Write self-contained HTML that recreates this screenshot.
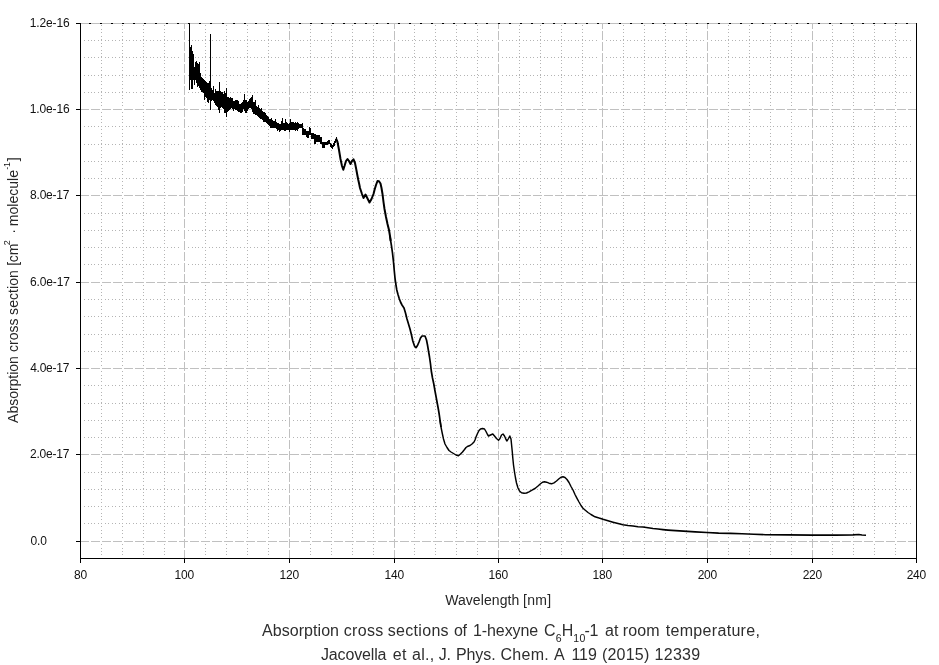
<!DOCTYPE html>
<html lang="en"><head><meta charset="utf-8"><title>Absorption cross sections of 1-hexyne</title>
<style>html,body{margin:0;padding:0;background:#fff;overflow:hidden}body{width:939px;height:665px}</style></head>
<body>
<svg width="939" height="665" viewBox="0 0 939 665" style="display:block">
<rect width="939" height="665" fill="#fff"/>
<g stroke="#b4b4b4" stroke-width="1" stroke-dasharray="1 2.464" shape-rendering="crispEdges" fill="none">
<path d="M101.5 25.3V107.2M101.5 112.1V193.2M101.5 198.1V280.2M101.5 285.1V366.2M101.5 371.1V452.2M101.5 457.1V539.2M101.5 544.1V556.2M122.5 25.3V107.2M122.5 112.1V193.2M122.5 198.1V280.2M122.5 285.1V366.2M122.5 371.1V452.2M122.5 457.1V539.2M122.5 544.1V556.2M143.5 25.3V107.2M143.5 112.1V193.2M143.5 198.1V280.2M143.5 285.1V366.2M143.5 371.1V452.2M143.5 457.1V539.2M143.5 544.1V556.2M164.5 25.3V107.2M164.5 112.1V193.2M164.5 198.1V280.2M164.5 285.1V366.2M164.5 371.1V452.2M164.5 457.1V539.2M164.5 544.1V556.2M205.5 25.3V107.2M205.5 112.1V193.2M205.5 198.1V280.2M205.5 285.1V366.2M205.5 371.1V452.2M205.5 457.1V539.2M205.5 544.1V556.2M226.5 25.3V107.2M226.5 112.1V193.2M226.5 198.1V280.2M226.5 285.1V366.2M226.5 371.1V452.2M226.5 457.1V539.2M226.5 544.1V556.2M247.5 25.3V107.2M247.5 112.1V193.2M247.5 198.1V280.2M247.5 285.1V366.2M247.5 371.1V452.2M247.5 457.1V539.2M247.5 544.1V556.2M268.5 25.3V107.2M268.5 112.1V193.2M268.5 198.1V280.2M268.5 285.1V366.2M268.5 371.1V452.2M268.5 457.1V539.2M268.5 544.1V556.2M310.5 25.3V107.2M310.5 112.1V193.2M310.5 198.1V280.2M310.5 285.1V366.2M310.5 371.1V452.2M310.5 457.1V539.2M310.5 544.1V556.2M331.5 25.3V107.2M331.5 112.1V193.2M331.5 198.1V280.2M331.5 285.1V366.2M331.5 371.1V452.2M331.5 457.1V539.2M331.5 544.1V556.2M352.5 25.3V107.2M352.5 112.1V193.2M352.5 198.1V280.2M352.5 285.1V366.2M352.5 371.1V452.2M352.5 457.1V539.2M352.5 544.1V556.2M373.5 25.3V107.2M373.5 112.1V193.2M373.5 198.1V280.2M373.5 285.1V366.2M373.5 371.1V452.2M373.5 457.1V539.2M373.5 544.1V556.2M414.5 25.3V107.2M414.5 112.1V193.2M414.5 198.1V280.2M414.5 285.1V366.2M414.5 371.1V452.2M414.5 457.1V539.2M414.5 544.1V556.2M435.5 25.3V107.2M435.5 112.1V193.2M435.5 198.1V280.2M435.5 285.1V366.2M435.5 371.1V452.2M435.5 457.1V539.2M435.5 544.1V556.2M456.5 25.3V107.2M456.5 112.1V193.2M456.5 198.1V280.2M456.5 285.1V366.2M456.5 371.1V452.2M456.5 457.1V539.2M456.5 544.1V556.2M477.5 25.3V107.2M477.5 112.1V193.2M477.5 198.1V280.2M477.5 285.1V366.2M477.5 371.1V452.2M477.5 457.1V539.2M477.5 544.1V556.2M519.5 25.3V107.2M519.5 112.1V193.2M519.5 198.1V280.2M519.5 285.1V366.2M519.5 371.1V452.2M519.5 457.1V539.2M519.5 544.1V556.2M540.5 25.3V107.2M540.5 112.1V193.2M540.5 198.1V280.2M540.5 285.1V366.2M540.5 371.1V452.2M540.5 457.1V539.2M540.5 544.1V556.2M561.5 25.3V107.2M561.5 112.1V193.2M561.5 198.1V280.2M561.5 285.1V366.2M561.5 371.1V452.2M561.5 457.1V539.2M561.5 544.1V556.2M582.5 25.3V107.2M582.5 112.1V193.2M582.5 198.1V280.2M582.5 285.1V366.2M582.5 371.1V452.2M582.5 457.1V539.2M582.5 544.1V556.2M623.5 25.3V107.2M623.5 112.1V193.2M623.5 198.1V280.2M623.5 285.1V366.2M623.5 371.1V452.2M623.5 457.1V539.2M623.5 544.1V556.2M644.5 25.3V107.2M644.5 112.1V193.2M644.5 198.1V280.2M644.5 285.1V366.2M644.5 371.1V452.2M644.5 457.1V539.2M644.5 544.1V556.2M665.5 25.3V107.2M665.5 112.1V193.2M665.5 198.1V280.2M665.5 285.1V366.2M665.5 371.1V452.2M665.5 457.1V539.2M665.5 544.1V556.2M686.5 25.3V107.2M686.5 112.1V193.2M686.5 198.1V280.2M686.5 285.1V366.2M686.5 371.1V452.2M686.5 457.1V539.2M686.5 544.1V556.2M728.5 25.3V107.2M728.5 112.1V193.2M728.5 198.1V280.2M728.5 285.1V366.2M728.5 371.1V452.2M728.5 457.1V539.2M728.5 544.1V556.2M749.5 25.3V107.2M749.5 112.1V193.2M749.5 198.1V280.2M749.5 285.1V366.2M749.5 371.1V452.2M749.5 457.1V539.2M749.5 544.1V556.2M770.5 25.3V107.2M770.5 112.1V193.2M770.5 198.1V280.2M770.5 285.1V366.2M770.5 371.1V452.2M770.5 457.1V539.2M770.5 544.1V556.2M791.5 25.3V107.2M791.5 112.1V193.2M791.5 198.1V280.2M791.5 285.1V366.2M791.5 371.1V452.2M791.5 457.1V539.2M791.5 544.1V556.2M832.5 25.3V107.2M832.5 112.1V193.2M832.5 198.1V280.2M832.5 285.1V366.2M832.5 371.1V452.2M832.5 457.1V539.2M832.5 544.1V556.2M853.5 25.3V107.2M853.5 112.1V193.2M853.5 198.1V280.2M853.5 285.1V366.2M853.5 371.1V452.2M853.5 457.1V539.2M853.5 544.1V556.2M874.5 25.3V107.2M874.5 112.1V193.2M874.5 198.1V280.2M874.5 285.1V366.2M874.5 371.1V452.2M874.5 457.1V539.2M874.5 544.1V556.2M895.5 25.3V107.2M895.5 112.1V193.2M895.5 198.1V280.2M895.5 285.1V366.2M895.5 371.1V452.2M895.5 457.1V539.2M895.5 544.1V556.2"/>
<path d="M84.1 523.5H181.4M188.1 523.5H286.4M293.1 523.5H391.4M398.1 523.5H495.4M502.1 523.5H599.4M606.1 523.5H704.4M711.1 523.5H809.4M816.1 523.5H913.4M84.1 506.5H181.4M188.1 506.5H286.4M293.1 506.5H391.4M398.1 506.5H495.4M502.1 506.5H599.4M606.1 506.5H704.4M711.1 506.5H809.4M816.1 506.5H913.4M84.1 489.5H181.4M188.1 489.5H286.4M293.1 489.5H391.4M398.1 489.5H495.4M502.1 489.5H599.4M606.1 489.5H704.4M711.1 489.5H809.4M816.1 489.5H913.4M84.1 472.5H181.4M188.1 472.5H286.4M293.1 472.5H391.4M398.1 472.5H495.4M502.1 472.5H599.4M606.1 472.5H704.4M711.1 472.5H809.4M816.1 472.5H913.4M84.1 437.5H181.4M188.1 437.5H286.4M293.1 437.5H391.4M398.1 437.5H495.4M502.1 437.5H599.4M606.1 437.5H704.4M711.1 437.5H809.4M816.1 437.5H913.4M84.1 420.5H181.4M188.1 420.5H286.4M293.1 420.5H391.4M398.1 420.5H495.4M502.1 420.5H599.4M606.1 420.5H704.4M711.1 420.5H809.4M816.1 420.5H913.4M84.1 403.5H181.4M188.1 403.5H286.4M293.1 403.5H391.4M398.1 403.5H495.4M502.1 403.5H599.4M606.1 403.5H704.4M711.1 403.5H809.4M816.1 403.5H913.4M84.1 385.5H181.4M188.1 385.5H286.4M293.1 385.5H391.4M398.1 385.5H495.4M502.1 385.5H599.4M606.1 385.5H704.4M711.1 385.5H809.4M816.1 385.5H913.4M84.1 351.5H181.4M188.1 351.5H286.4M293.1 351.5H391.4M398.1 351.5H495.4M502.1 351.5H599.4M606.1 351.5H704.4M711.1 351.5H809.4M816.1 351.5H913.4M84.1 334.5H181.4M188.1 334.5H286.4M293.1 334.5H391.4M398.1 334.5H495.4M502.1 334.5H599.4M606.1 334.5H704.4M711.1 334.5H809.4M816.1 334.5H913.4M84.1 316.5H181.4M188.1 316.5H286.4M293.1 316.5H391.4M398.1 316.5H495.4M502.1 316.5H599.4M606.1 316.5H704.4M711.1 316.5H809.4M816.1 316.5H913.4M84.1 299.5H181.4M188.1 299.5H286.4M293.1 299.5H391.4M398.1 299.5H495.4M502.1 299.5H599.4M606.1 299.5H704.4M711.1 299.5H809.4M816.1 299.5H913.4M84.1 264.5H181.4M188.1 264.5H286.4M293.1 264.5H391.4M398.1 264.5H495.4M502.1 264.5H599.4M606.1 264.5H704.4M711.1 264.5H809.4M816.1 264.5H913.4M84.1 247.5H181.4M188.1 247.5H286.4M293.1 247.5H391.4M398.1 247.5H495.4M502.1 247.5H599.4M606.1 247.5H704.4M711.1 247.5H809.4M816.1 247.5H913.4M84.1 230.5H181.4M188.1 230.5H286.4M293.1 230.5H391.4M398.1 230.5H495.4M502.1 230.5H599.4M606.1 230.5H704.4M711.1 230.5H809.4M816.1 230.5H913.4M84.1 213.5H181.4M188.1 213.5H286.4M293.1 213.5H391.4M398.1 213.5H495.4M502.1 213.5H599.4M606.1 213.5H704.4M711.1 213.5H809.4M816.1 213.5H913.4M84.1 178.5H181.4M188.1 178.5H286.4M293.1 178.5H391.4M398.1 178.5H495.4M502.1 178.5H599.4M606.1 178.5H704.4M711.1 178.5H809.4M816.1 178.5H913.4M84.1 161.5H181.4M188.1 161.5H286.4M293.1 161.5H391.4M398.1 161.5H495.4M502.1 161.5H599.4M606.1 161.5H704.4M711.1 161.5H809.4M816.1 161.5H913.4M84.1 144.5H181.4M188.1 144.5H286.4M293.1 144.5H391.4M398.1 144.5H495.4M502.1 144.5H599.4M606.1 144.5H704.4M711.1 144.5H809.4M816.1 144.5H913.4M84.1 126.5H181.4M188.1 126.5H286.4M293.1 126.5H391.4M398.1 126.5H495.4M502.1 126.5H599.4M606.1 126.5H704.4M711.1 126.5H809.4M816.1 126.5H913.4M84.1 92.5H181.4M188.1 92.5H286.4M293.1 92.5H391.4M398.1 92.5H495.4M502.1 92.5H599.4M606.1 92.5H704.4M711.1 92.5H809.4M816.1 92.5H913.4M84.1 75.5H181.4M188.1 75.5H286.4M293.1 75.5H391.4M398.1 75.5H495.4M502.1 75.5H599.4M606.1 75.5H704.4M711.1 75.5H809.4M816.1 75.5H913.4M84.1 57.5H181.4M188.1 57.5H286.4M293.1 57.5H391.4M398.1 57.5H495.4M502.1 57.5H599.4M606.1 57.5H704.4M711.1 57.5H809.4M816.1 57.5H913.4M84.1 40.5H181.4M188.1 40.5H286.4M293.1 40.5H391.4M398.1 40.5H495.4M502.1 40.5H599.4M606.1 40.5H704.4M711.1 40.5H809.4M816.1 40.5H913.4"/>
</g>
<g shape-rendering="crispEdges" stroke-width="1">
<line x1="80" y1="23.5" x2="917" y2="23.5" stroke="#000"/>
<g stroke="#c0c0c0" stroke-dasharray="9.04 2">
<line x1="184.5" y1="559" x2="184.5" y2="24"/>
<line x1="289.5" y1="559" x2="289.5" y2="24"/>
<line x1="394.5" y1="559" x2="394.5" y2="24"/>
<line x1="498.5" y1="559" x2="498.5" y2="24"/>
<line x1="602.5" y1="559" x2="602.5" y2="24"/>
<line x1="707.5" y1="559" x2="707.5" y2="24"/>
<line x1="812.5" y1="559" x2="812.5" y2="24"/>
<line x1="80" y1="541.5" x2="916" y2="541.5"/>
<line x1="80" y1="454.5" x2="916" y2="454.5"/>
<line x1="80" y1="368.5" x2="916" y2="368.5"/>
<line x1="80" y1="282.5" x2="916" y2="282.5"/>
<line x1="80" y1="195.5" x2="916" y2="195.5"/>
<line x1="80" y1="109.5" x2="916" y2="109.5"/>
<line x1="80" y1="23.5" x2="916" y2="23.5"/>
</g>
<g stroke="#000">
<line x1="80.5" y1="23" x2="80.5" y2="559"/>
<line x1="916.5" y1="23" x2="916.5" y2="559"/>
<line x1="80" y1="558.5" x2="917" y2="558.5"/>
<line x1="80.5" y1="559" x2="80.5" y2="563"/>
<line x1="184.5" y1="559" x2="184.5" y2="563"/>
<line x1="289.5" y1="559" x2="289.5" y2="563"/>
<line x1="394.5" y1="559" x2="394.5" y2="563"/>
<line x1="498.5" y1="559" x2="498.5" y2="563"/>
<line x1="602.5" y1="559" x2="602.5" y2="563"/>
<line x1="707.5" y1="559" x2="707.5" y2="563"/>
<line x1="812.5" y1="559" x2="812.5" y2="563"/>
<line x1="916.5" y1="559" x2="916.5" y2="563"/>
<line x1="76" y1="541.5" x2="80" y2="541.5"/>
<line x1="76" y1="454.5" x2="80" y2="454.5"/>
<line x1="76" y1="368.5" x2="80" y2="368.5"/>
<line x1="76" y1="282.5" x2="80" y2="282.5"/>
<line x1="76" y1="195.5" x2="80" y2="195.5"/>
<line x1="76" y1="109.5" x2="80" y2="109.5"/>
<line x1="76" y1="23.5" x2="80" y2="23.5"/>
</g></g>
<path d="M189 23h1V89.5h-1zM190 47h1V80h-1zM191 45h1V88.5h-1zM192 51h1V88.5h-1zM193 54h1V80h-1zM194 67h1V84.5h-1zM195 62h1V80h-1zM196 61h1V83h-1zM197 63h1V86.5h-1zM198 64h1V86h-1zM199 62h1V88h-1zM200 73h1V90h-1zM201 77h1V91.5h-1zM202 78h1V92h-1zM203 79h1V92.5h-1zM204 80h1V99.5h-1zM205 81h1V97h-1zM206 82h1V98h-1zM207 83h1V102h-1zM208 83h1V102.5h-1zM209 81h1V100h-1zM210 34h1V109.5h-1zM211 88h1V101h-1zM212 90h1V100h-1zM213 86h1V101h-1zM214 93h1V103h-1zM215 89h1V105h-1zM216 91h1V106h-1zM217 91h1V107h-1zM218 91h1V109.5h-1zM219 82h1V112.5h-1zM220 91h1V108h-1zM221 91.5h1V107h-1zM222 92h1V107.5h-1zM223 94h1V109h-1zM224 91h1V113h-1zM225 93h1V113h-1zM226 88h1V116.5h-1zM227 97h1V112h-1zM228 96.5h1V110.5h-1zM229 97.5h1V110h-1zM230 97h1V108.5h-1zM231 97.5h1V108h-1zM232 98h1V108.5h-1zM233 101h1V110.5h-1zM234 100.5h1V109h-1zM235 100h1V109.5h-1zM236 100h1V110h-1zM237 100h1V111h-1zM238 100.5h1V112h-1zM239 104h1V112h-1zM240 104h1V112.5h-1zM241 103h1V112.5h-1zM242 102h1V112h-1zM243 100h1V109h-1zM244 94h1V111h-1zM245 100h1V112.5h-1zM246 100h1V112.5h-1zM247 102h1V111h-1zM248 101h1V109h-1zM249 99h1V108h-1zM250 98h1V107.5h-1zM251 97h1V109h-1zM252 95h1V112h-1zM253 102h1V113.5h-1zM254 102h1V114h-1zM255 100h1V114.5h-1zM256 106h1V115h-1zM257 107h1V116h-1zM258 105h1V117h-1zM259 108h1V118h-1zM260 109h1V118.5h-1zM261 108h1V119h-1zM262 111h1V120h-1zM263 112h1V121.5h-1zM264 112h1V121.5h-1zM265 113h1V122h-1zM266 115h1V123h-1zM267 115.5h1V124h-1zM268 117h1V124.5h-1zM269 118.5h1V125.5h-1zM270 119h1V127.5h-1zM271 118h1V127.5h-1zM272 120h1V128h-1zM273 121h1V127.5h-1zM274 121h1V127.5h-1zM275 119h1V128h-1zM276 122h1V129h-1zM277 122.5h1V130.5h-1zM278 123h1V130h-1zM279 124h1V131.5h-1zM280 124h1V131h-1zM281 121h1V130h-1zM282 118h1V130h-1zM283 123h1V130h-1zM284 123h1V130.5h-1zM285 118.5h1V130.5h-1zM286 122h1V130h-1zM287 122.5h1V130h-1zM288 123.5h1V130h-1zM289 123h1V131.5h-1zM290 119h1V130h-1zM291 122h1V129.5h-1zM292 122h1V129.5h-1zM293 122h1V129.5h-1zM294 122.5h1V130h-1zM295 122h1V130.5h-1zM296 122.5h1V130h-1zM297 122h1V130.5h-1zM298 123h1V129h-1zM299 123.5h1V128h-1zM300 123.5h1V128h-1zM301 123.5h1V128h-1zM302 123h1V134.5h-1zM303 128h1V134.5h-1zM304 129h1V135h-1zM305 129h1V135h-1zM306 130.5h1V137h-1zM307 130.5h1V137.5h-1zM308 131h1V137.5h-1zM309 127h1V135h-1zM310 128h1V135h-1zM311 132.5h1V138.5h-1zM312 132.5h1V138.5h-1zM313 133h1V139h-1zM314 134h1V143.5h-1zM315 134h1V143.5h-1zM316 134.5h1V142h-1zM317 135h1V141.5h-1zM318 135h1V141.5h-1zM319 135h1V141.5h-1zM320 137h1V144h-1zM321 137h1V144h-1zM322 142h1V147.5h-1zM323 142h1V147.5h-1zM324 142h1V147.5h-1zM325 142h1V145h-1zM326 142h1V145h-1zM327 141h1V144.5h-1zM328 140h1V143.5h-1zM329 140h1V143.5h-1zM330 143h1V147h-1zM331 144h1V148h-1zM332 144.5h1V148.5h-1zM333 143h1V147h-1zM334 141h1V146h-1zM335 139h1V143h-1zM336 137h1V141h-1zM337 139.5h1V144h-1zM338 143h1V150h-1z" fill="#000" shape-rendering="crispEdges"/>
<polyline points="336,138.5 337.5,142 339,150 340.5,159 342,166 343.3,169.7 344.5,166 346,161 347.5,159 349,161 350.5,164 352,161 353.5,159.3 355,163 356.2,169 357.5,176 358.3,180 359.2,184 360,188 361,191 362,194 363.5,198 365.5,194.5 367.5,198.5 369.5,202.5 371.5,199 373.5,194 374.5,190 376,185 377.5,181 379,181.3 380.5,183.5 381.5,188 382.5,194 383.5,202 384.5,209 386,217 387.5,224 389,230 390,236 390.7,241" fill="none" stroke="#000" stroke-width="2.0" stroke-linejoin="round"/>
<polyline points="390,236 390.7,241 391.5,246 392.5,253 393.5,262 394.3,271 395,278 395.8,284 396.8,290 398,294.5 399.2,298.5 400.5,302 402,305 404,308 405.5,313 407,319 408.5,324 410,329 411.5,335 412.8,341 414.5,346 416,347.7 417.5,345.5 419,342 420.5,338 422,336 425,336 426.5,340 427.5,345 428.5,351 429.5,357 430.5,364 431.3,371 432.5,378 433.8,384 435,391 436.3,398 437.5,404.5 438.5,410 439.3,415 440,420 441,427" fill="none" stroke="#000" stroke-width="1.7" stroke-linejoin="round"/>
<polyline points="440,420 441,427 442.2,433 443.5,439 445,444 447,447.5 449,450.5 451,452 453.5,453.5 456,455 458.5,455.7 460.5,454 462.5,452 464.5,449.5 466,447.5 468,446.2 470,445.5 472,444 474,442 475,440 476,437 477.5,433.5 479,430.5 480.5,429 482.5,428.5 484.5,429 486,431.5 487.5,434.5 488.5,436 490.5,435 492.8,434 494.5,436 496.5,438.5 498.5,440.2 500,438.5 501.5,435 503,434 504.5,436 506,439.5 507,441 508.5,438.5 509.8,436 511,439 511.8,447 512.3,452 512.8,458 513.5,465 514.5,472 515.5,478 516.5,483 518,488 519.5,491 521.5,492.8 524,493.2 526.5,493 529,491.8 532,490.2 535,488.5 538,486 540.5,483.8 542.5,482.2 544.5,481.8 546.5,482.2 549,483.2 551.5,483.8 554,482.8 556.5,481 559,478.8 561,477.2 563,476.8 565,477.5 567,479.5 569,482.5 571,486.5 573,490 575,494.5 577,498.3 579,502 581,505.5 583,508.3 585,510 588,512.5 591,514.5 595,516.8 599,518" fill="none" stroke="#000" stroke-width="1.45" stroke-linejoin="round"/>
<polyline points="599,518 603,519.3 608,520.8 613,522.2 618,523.5 623,524.7 628,525.5 633,526 638,526.7 643,527 648,527.8 653,528.5 658,529 663,529.6 668,530.1 671.7,530.4 683.5,531.1 695.2,531.9 706.9,532.5 718.6,533.1 730.4,533.4 742.1,533.8 753.8,534.2 765.5,534.7 788.5,534.9 811.9,535.1 835.4,535.1 853,534.9 858.8,534.5 862,535 866,535.2" fill="none" stroke="#000" stroke-width="1.6" stroke-linejoin="round"/>
<g font-family="'Liberation Sans', Arial, sans-serif" fill="#000">
<text x="262.04" y="635.8" font-size="16px" fill="#2e2e2e" letter-spacing="0.05">Absorption</text>
<text x="343.72" y="635.8" font-size="16px" fill="#2e2e2e" letter-spacing="0.357">cross</text>
<text x="387.8" y="635.8" font-size="16px" fill="#2e2e2e" letter-spacing="0.3">sections</text>
<text x="453.88" y="635.8" font-size="16px" fill="#2e2e2e" letter-spacing="-0.25">of</text>
<text x="473.08" y="635.8" font-size="16px" fill="#2e2e2e" letter-spacing="-0.112">1-hexyne</text>
<text x="543.92" y="635.8" font-size="16px" fill="#2e2e2e">C</text>
<text x="555.86" y="641.5" font-size="10.5px" fill="#1a1a1a">6</text>
<text x="561.86" y="635.8" font-size="16px" fill="#2e2e2e">H</text>
<text x="573.31" y="641.5" font-size="10.5px" fill="#1a1a1a" letter-spacing="0.45">10</text>
<text x="584.43" y="635.8" font-size="16px" fill="#2e2e2e" letter-spacing="-0.25">-1</text>
<text x="604.9" y="635.8" font-size="16px" fill="#2e2e2e" letter-spacing="0.1">at</text>
<text x="622.87" y="635.8" font-size="16px" fill="#2e2e2e" letter-spacing="0.1">room</text>
<text x="665.76" y="635.8" font-size="16px" fill="#2e2e2e" letter-spacing="0.313">temperature,</text>
<text x="320.93" y="659.7" font-size="16px" fill="#2e2e2e" letter-spacing="-0.147">Jacovella</text>
<text x="392.78" y="659.7" font-size="16px" fill="#2e2e2e" letter-spacing="0.45">et</text>
<text x="411.99" y="659.7" font-size="16px" fill="#2e2e2e" letter-spacing="0.267">al.,</text>
<text x="438.76" y="659.7" font-size="16px" fill="#2e2e2e" letter-spacing="-0.25">J.</text>
<text x="455.95" y="659.7" font-size="16px" fill="#2e2e2e" letter-spacing="-0.069">Phys.</text>
<text x="500.52" y="659.7" font-size="16px" fill="#2e2e2e" letter-spacing="0.263">Chem.</text>
<text x="554.08" y="659.7" font-size="16px" fill="#2e2e2e">A</text>
<text x="571.41" y="659.7" font-size="16px" fill="#2e2e2e" letter-spacing="-0.016">119</text>
<text x="601.97" y="659.7" font-size="16px" fill="#2e2e2e" letter-spacing="0.2">(2015)</text>
<text x="654.54" y="659.7" font-size="16px" fill="#2e2e2e" letter-spacing="0.292">12339</text>
<text x="445.14" y="604.6" font-size="14px" fill="#262626" letter-spacing="0.082">Wavelength</text>
<text x="523" y="604.6" font-size="14px" fill="#262626" letter-spacing="0.333">[nm]</text>
<text x="30.57" y="545" font-size="12px" fill="#111" letter-spacing="-0.139">0.0</text>
<text x="30.04" y="458" font-size="12px" fill="#111" letter-spacing="-0.231">2.0e-17</text>
<text x="30.2" y="372" font-size="12px" fill="#111" letter-spacing="-0.25">4.0e-17</text>
<text x="29.88" y="286" font-size="12px" fill="#111" letter-spacing="-0.117">6.0e-17</text>
<text x="30.1" y="199" font-size="12px" fill="#111" letter-spacing="-0.238">8.0e-17</text>
<text x="29.67" y="113" font-size="12px" fill="#111" letter-spacing="-0.117">1.0e-16</text>
<text x="29.67" y="27" font-size="12px" fill="#111" letter-spacing="-0.117">1.2e-16</text>
<text x="73.99" y="579" font-size="12px" fill="#111" letter-spacing="-0.2">80</text>
<text x="174.6" y="579" font-size="12px" fill="#111" letter-spacing="-0.2">100</text>
<text x="279.6" y="579" font-size="12px" fill="#111" letter-spacing="-0.2">120</text>
<text x="384.6" y="579" font-size="12px" fill="#111" letter-spacing="-0.2">140</text>
<text x="488.6" y="579" font-size="12px" fill="#111" letter-spacing="-0.2">160</text>
<text x="592.6" y="579" font-size="12px" fill="#111" letter-spacing="-0.2">180</text>
<text x="697.65" y="579" font-size="12px" fill="#111" letter-spacing="-0.2">200</text>
<text x="802.65" y="579" font-size="12px" fill="#111" letter-spacing="-0.2">220</text>
<text x="906.65" y="579" font-size="12px" fill="#111" letter-spacing="-0.2">240</text>
<g transform="translate(0,423) rotate(-90)">
<text x="0.13" y="18" font-size="14px" fill="#262626" letter-spacing="-0.019">Absorption</text>
<text x="71.04" y="18" font-size="14px" fill="#262626" letter-spacing="-0.025">cross</text>
<text x="108.08" y="18" font-size="14px" fill="#262626" letter-spacing="0.073">section</text>
<text x="157.2" y="18" font-size="14px" fill="#262626" letter-spacing="-0.224">[cm</text>
<text x="177.78" y="9.6" font-size="9px" fill="#111">2</text>
<text x="189.3" y="18" font-size="14px" fill="#262626">·</text>
<text x="196.8" y="18" font-size="14px" fill="#262626" letter-spacing="0.03">molecule</text>
<text x="253.32" y="9.6" font-size="9px" fill="#111" letter-spacing="-0.25">-1</text>
<text x="261.85" y="18" font-size="14px" fill="#262626">]</text>
</g>
</g>
</svg>
</body></html>
